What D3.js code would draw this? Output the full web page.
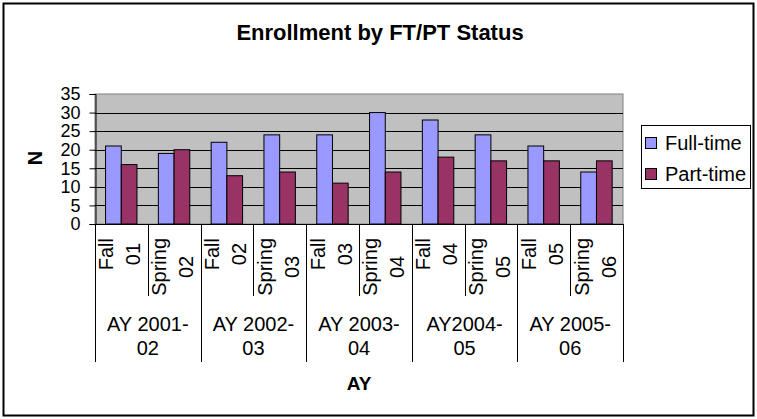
<!DOCTYPE html>
<html>
<head>
<meta charset="utf-8">
<script src="https://cdn.jsdelivr.net/npm/d3@7"></script>
<style>
  body { margin: 0; background: #fff; }
  text { font-family: "Liberation Sans", Arial, sans-serif; fill: #000; }
</style>
</head>
<body>
<div id="chart"></div>
<script>
// data
var terms = ["Fall 01", "Spring 02", "Fall 02", "Spring 03", "Fall 03", "Spring 04", "Fall 04", "Spring 05", "Fall 05", "Spring 06"];
var years = ["AY 2001-02", "AY 2002-03", "AY 2003-04", "AY2004-05", "AY 2005-06"];
var seriesNames = ["Full-time", "Part-time"];
var fullTime = [21, 19, 22, 24, 24, 30, 28, 24, 21, 14];
var partTime = [16, 20, 13, 14, 11, 14, 18, 17, 17, 17];
var yTicks = [0, 5, 10, 15, 20, 25, 30, 35];

var colors = { "Full-time": "#9999ff", "Part-time": "#993366" };

var width = 757, height = 419;
var plot = { left: 95, right: 623, top: 94, bottom: 224 };

var svg = d3.select('#chart').append('svg')
    .attr('width', width)
    .attr('height', height);

svg.append('rect')
    .attr('x', 0).attr('y', 0).attr('width', width).attr('height', height)
    .attr('fill', '#fff');

// outer chart border
svg.append('rect')
    .attr('x', 3.5).attr('y', 3.5).attr('width', 750).attr('height', 412)
    .attr('fill', 'none').attr('stroke', '#000').attr('stroke-width', 2);

svg.append('text')
    .attr('x', 380).attr('y', 40)
    .attr('text-anchor', 'middle')
    .style('font-size', '22px').style('font-weight', 'bold')
    .text('Enrollment by FT/PT Status');

var x = d3.scaleBand().domain(terms).range([plot.left, plot.right]).padding(0);
var bw = x.bandwidth();
var xs = d3.scaleBand().domain(seriesNames).range([bw * 0.2, bw * 0.795]).padding(0);
var y = d3.scaleLinear().domain([0, 35]).range([plot.bottom, plot.top]);

// plot background
svg.append('rect')
    .attr('x', plot.left).attr('y', plot.top)
    .attr('width', plot.right - plot.left).attr('height', plot.bottom - plot.top)
    .attr('fill', '#c0c0c0').attr('stroke', '#808080');

// gridlines
svg.append('g').selectAll('line')
    .data(yTicks.filter(function(d) { return d > 0 && d < 35; }))
    .enter().append('line')
    .attr('x1', plot.left).attr('x2', plot.right)
    .attr('y1', function(d) { return Math.round(y(d)) + 0.5; })
    .attr('y2', function(d) { return Math.round(y(d)) + 0.5; })
    .attr('stroke', '#000');

// bars
var rows = terms.map(function(t, i) {
  return { term: t, values: [
    { name: 'Full-time', value: fullTime[i] },
    { name: 'Part-time', value: partTime[i] }
  ] };
});

svg.append('g').selectAll('g')
    .data(rows).enter().append('g')
    .attr('transform', function(d) { return 'translate(' + x(d.term) + ',0)'; })
    .selectAll('rect')
    .data(function(d) { return d.values; })
    .enter().append('rect')
    .attr('x', function(d) { return xs(d.name); })
    .attr('y', function(d) { return y(d.value); })
    .attr('width', xs.bandwidth())
    .attr('height', function(d) { return y(0) - y(d.value); })
    .attr('fill', function(d) { return colors[d.name]; })
    .attr('stroke', '#000');

// y axis
var yAxis = svg.append('g')
    .attr('transform', 'translate(' + (plot.left + 0.5) + ',0)')
    .call(d3.axisLeft(y).tickValues(yTicks).tickSize(6).tickPadding(9));
yAxis.select('.domain').attr('stroke', '#000');
yAxis.selectAll('text').style('font-size', '18px').style('font-family', '"Liberation Sans", Arial, sans-serif');

// x axis line
svg.append('line')
    .attr('x1', plot.left).attr('x2', plot.right)
    .attr('y1', plot.bottom + 0.5).attr('y2', plot.bottom + 0.5)
    .attr('stroke', '#000');

// category separators (short between terms, long between years)
var edges = d3.range(terms.length + 1);
svg.append('g').selectAll('line')
    .data(edges).enter().append('line')
    .attr('x1', function(i) { return Math.round(plot.left + i * bw) + 0.5; })
    .attr('x2', function(i) { return Math.round(plot.left + i * bw) + 0.5; })
    .attr('y1', plot.bottom)
    .attr('y2', function(i) { return i % 2 === 0 ? 362 : 296; })
    .attr('stroke', '#000');

// rotated term labels, two lines, centred in a block that starts at y=238
var measure = svg.append('text').style('font-size', '20px');
function textLen(s) { measure.text(s); return measure.node().getComputedTextLength(); }

var termG = svg.append('g');
terms.forEach(function(t) {
  var parts = t.split(' ');
  var maxLen = d3.max(parts, textLen);
  var cx = x(t) + bw / 2;
  var cy = 238 + maxLen / 2;
  var offs = [-8, 19];
  parts.forEach(function(p, j) {
    termG.append('text')
        .attr('transform', 'translate(' + (cx + offs[j]) + ',' + cy + ') rotate(-90)')
        .attr('text-anchor', 'middle')
        .style('font-size', '20px')
        .text(p);
  });
});
measure.remove();

// year labels
var yearG = svg.append('g');
years.forEach(function(yr, i) {
  var k = yr.lastIndexOf('-') + 1;
  var cx = plot.left + (2 * i + 1) * bw;
  [yr.slice(0, k), yr.slice(k)].forEach(function(p, j) {
    yearG.append('text')
        .attr('x', cx).attr('y', 331 + j * 24)
        .attr('text-anchor', 'middle')
        .style('font-size', '20px')
        .text(p);
  });
});

// axis titles
svg.append('text')
    .attr('transform', 'translate(42,158) rotate(-90)')
    .attr('text-anchor', 'middle')
    .style('font-size', '20px').style('font-weight', 'bold')
    .text('N');

svg.append('text')
    .attr('x', 359).attr('y', 390)
    .attr('text-anchor', 'middle')
    .style('font-size', '19px').style('font-weight', 'bold')
    .text('AY');

// legend
var legend = svg.append('g');
legend.append('rect')
    .attr('x', 641.5).attr('y', 125.5).attr('width', 109).attr('height', 63)
    .attr('fill', '#fff').attr('stroke', '#000');
seriesNames.forEach(function(name, i) {
  var cy = 143 + i * 31;
  legend.append('rect')
      .attr('x', 645.5).attr('y', cy - 5.5).attr('width', 11).attr('height', 11)
      .attr('fill', colors[name]).attr('stroke', '#000');
  legend.append('text')
      .attr('x', 665).attr('y', cy + 7)
      .style('font-size', '20px')
      .text(name);
});
</script>
</body>
</html>
